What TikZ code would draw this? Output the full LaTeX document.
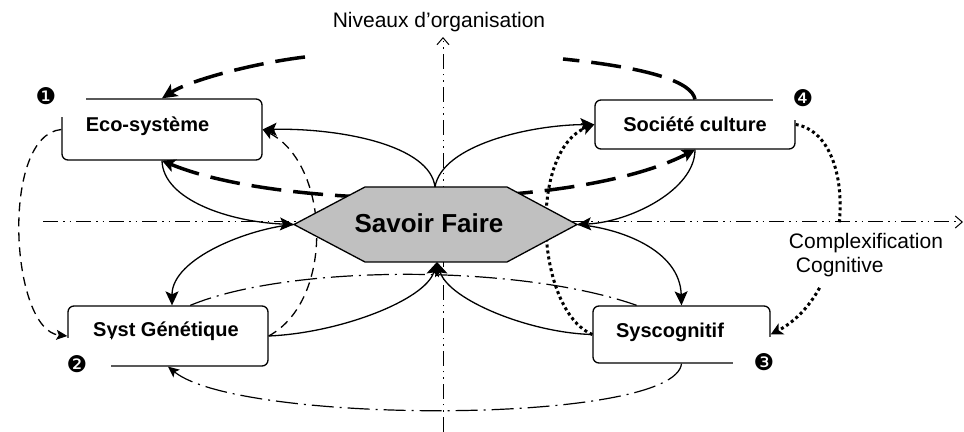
\documentclass[tikz,border=0pt]{standalone}
\usepackage{fontspec}
\setmainfont{Liberation Sans}
\newfontfamily\dejavu{DejaVu Sans}
\usetikzlibrary{arrows.meta}
\definecolor{hexgray}{RGB}{192,192,192}
\begin{document}
\begin{tikzpicture}[x=0.5pt,y=-0.5pt,
  box/.style={draw, line width=0.65pt, rounded corners=3pt, fill=white, inner sep=0pt},
  boxtxt/.style={font=\fontsize{10}{12}\selectfont\bfseries},
  num/.style={font=\dejavu\fontsize{11.5}{12}\selectfont, inner sep=0pt},
  axislbl/.style={font=\fontsize{10.5}{12}\selectfont},
  axisline/.style={line width=0.5pt, dash pattern=on 7.5pt off 2.5pt on 0.75pt off 2.5pt on 0.75pt off 2.5pt, -{Straight Barb[length=3.5pt,width=6pt]}},
  link/.style={line width=0.65pt, -{Stealth[length=7pt,width=6.5pt,inset=1.5pt]}},
  thickdash/.style={line width=1.75pt, dash pattern=on 15pt off 6pt},
  thindash/.style={line width=0.65pt, dash pattern=on 4.5pt off 3pt},
  dotline/.style={line width=1.5pt, dash pattern=on 1.5pt off 1.5pt},
  dashdot/.style={line width=0.6pt, dash pattern=on 11pt off 3pt on 1pt off 3pt},
  cover/.style={fill=white}
]
\useasboundingbox (0,0) rectangle (964,432);

% boxes
\node[box, minimum width=100pt, minimum height=30.5pt, label={[boxtxt, xshift=-7.25pt, yshift=1.75pt]center:Eco-système}] (eco) at (162,129.5) {};
\node[box, minimum width=100pt, minimum height=24.5pt, label={[boxtxt]center:Société culture}] (soc) at (695,124.5) {};
\node[box, minimum width=100pt, minimum height=30pt, label={[boxtxt, xshift=-1pt, yshift=2.5pt]center:Syst Génétique}] (gen) at (168,336) {};
\node[box, minimum width=88.5pt, minimum height=28.5pt, label={[boxtxt, xshift=-5.75pt, yshift=1pt]center:Syscognitif}] (cog) at (681.5,334.5) {};

% number text boxes hiding the box corners
\fill[cover] (56,94) rectangle (86,117);
\fill[cover] (773,95) rectangle (800,120);
\fill[cover] (63,338) rectangle (111,371);
\fill[cover] (733,337) rectangle (775,368);
\node[num] (n1) at (46,96) {❶};
\node[num] (n2) at (77,364) {❷};
\node[num] (n3) at (764,362) {❸};
\node[num] (n4) at (803,98) {❹};

% coordinates
\coordinate (hL) at (294,224.5);
\coordinate (hTL) at (365,187);
\coordinate (hTR) at (507,187);
\coordinate (hR) at (577,224.5);
\coordinate (hBR) at (507,262);
\coordinate (hBL) at (365,262);
\coordinate (hT) at (435,187);
\coordinate (hB) at (437,262);
\coordinate (vB) at (443,432);
\coordinate (vT) at (443,37);
\coordinate (hzL) at (43,222);
\coordinate (hzR) at (963,222);
\coordinate (aR) at (563,59);
\coordinate (aL) at (305,57);

% dotted right loop, partly hidden by the label
\draw[dotline, -{Stealth[length=6pt,width=6pt,inset=1.5pt]}] (soc.east) .. controls (860,135) and (855,290) .. (cog.east);
\node[axislbl, cover, align=left, inner xsep=2pt, inner ysep=5pt] (cc) at (866,255) {Complexification\\\hspace{3.5pt}Cognitive};

% axes
\draw[axisline] (vB) -- (vT);
\draw[axisline] (hzL) -- (hzR);
\node[axislbl] (niv) at (439,22) {Niveaux d’organisation};

% curves passing under the hexagon
\draw[thickdash, {Stealth[length=6.5pt,width=6.5pt,inset=1.5pt]}-{Stealth[length=6.5pt,width=6.5pt,inset=1.5pt]}] (eco.south) .. controls (284,211) and (577,211) .. (soc.south);
\draw[thindash, -{Stealth[length=5.5pt,width=5pt,inset=1.2pt]}] (gen.east) .. controls (335,300) and (330,165) .. (eco.east);
\draw[dotline, -{Stealth[length=6pt,width=6pt,inset=1.5pt]}] (cog.west) .. controls (535,310) and (528,150) .. (soc.west);
\draw[dashdot] (gen.54) .. controls (290,264) and (520,264) .. (cog.147);

% hexagon
\draw[line width=0.65pt, fill=hexgray] (hL) -- (hTL) -- (hTR) -- (hR) -- (hBR) -- (hBL) -- cycle;
\node[font=\fontsize{13}{15}\selectfont\bfseries] (sf) at (429,223) {Savoir Faire};

% solid arrows
\draw[link] (hT) .. controls (430,145) and (340,128) .. (eco.east);
\draw[link] (hT) .. controls (442,145) and (530,125) .. (soc.west);
\draw[link] (eco.south) .. controls (163,200) and (230,222) .. (hL);
\draw[link] (soc.south) .. controls (695,190) and (630,222) .. (hR);
\draw[link] (hL) .. controls (250,228) and (172,258) .. ([xshift=2pt]gen.north);
\draw[link] (hR) .. controls (620,228) and (680,250) .. (cog.north);
\draw[link] (gen.east) .. controls (340,333) and (425,300) .. (hB);
\draw[link] (cog.west) .. controls (530,333) and (449,300) .. (hB);

% other loops
\draw[thickdash] (soc.north) .. controls (692,82) and (650,68) .. (aR);
\draw[thickdash, -{Stealth[length=7.5pt,width=7pt,inset=1.8pt]}] (aL) .. controls (255,63) and (190,80) .. (eco.north);
\draw[thindash, -{Stealth[length=5.5pt,width=5pt,inset=1.2pt]}] (eco.west) .. controls (0,135) and (10,330) .. (gen.west);
\draw[dashdot, -{Stealth[length=5.5pt,width=5pt,inset=1.2pt]}] (cog.south) .. controls (675,425) and (240,425) .. (gen.south);
\end{tikzpicture}
\end{document}
